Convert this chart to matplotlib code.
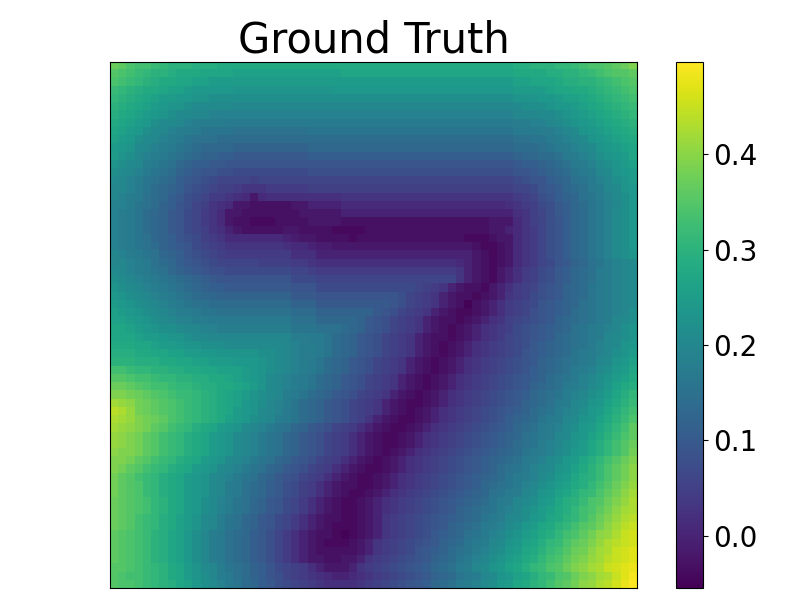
import matplotlib
matplotlib.use("Agg")
import matplotlib.pyplot as plt
import numpy as np

title = "Ground Truth"
cbar_ticks = [0.0, 0.1, 0.2, 0.3, 0.4]
vmin = -0.055
vmax = 0.497

# field values, in hundredths, one line per image row
field_pct = [
    [37,36,34,33,33,32,31,30,30,30,29,29,29,28,28,28,28,28,28,28,28,28,28,28,28,28,28,28,28,28,28,28,28,28,28,28,28,28,28,28,28,28,28,28,28,28,28,28,28,29,29,30,30,30,31,31,32,33,34,34,35,36,37,39],
    [35,34,33,32,31,30,30,29,28,28,28,27,27,27,27,26,26,26,26,26,26,26,26,26,26,26,26,26,27,27,27,27,27,27,27,27,27,27,27,27,27,27,27,27,27,27,27,27,27,28,28,28,28,29,29,30,30,31,32,33,34,35,35,36],
    [34,33,32,31,30,29,28,28,27,27,26,26,25,25,25,25,25,25,25,25,25,25,25,25,25,25,25,25,25,25,25,25,25,25,25,25,25,25,25,25,25,25,25,25,25,25,25,25,25,26,26,27,27,27,28,29,29,30,30,31,32,33,34,35],
    [32,31,30,29,28,28,27,26,26,25,24,24,24,24,24,23,23,23,23,23,23,23,23,23,23,23,23,24,24,24,24,24,24,24,24,24,24,24,24,24,24,24,24,24,24,24,24,24,24,25,25,25,25,26,27,27,28,28,29,30,31,32,33,34],
    [31,30,29,28,27,26,25,25,24,24,23,23,22,22,22,22,22,22,22,22,22,22,22,22,22,22,22,22,22,22,22,22,22,22,22,22,22,22,22,22,22,22,22,22,22,22,22,22,22,23,23,23,24,24,25,26,26,27,28,29,30,31,32,33],
    [30,29,28,27,26,25,24,23,23,22,21,21,21,21,21,20,20,20,20,20,20,20,20,20,20,20,20,20,20,20,20,20,20,20,20,20,20,20,20,20,20,20,20,20,20,20,20,20,20,21,22,22,22,23,24,24,25,26,27,28,29,30,31,32],
    [29,28,27,26,25,24,23,22,21,21,20,20,19,19,19,19,19,19,19,19,19,19,19,19,19,19,19,19,19,19,19,19,19,19,19,19,19,19,19,19,19,19,19,19,19,19,19,19,19,20,20,20,21,21,22,23,24,25,26,27,28,29,30,31],
    [28,27,26,25,24,22,21,21,20,19,18,18,18,18,17,17,17,17,17,17,17,17,17,17,17,17,17,17,17,17,17,17,17,17,17,17,17,17,17,17,17,17,17,17,17,17,17,17,17,18,18,19,19,20,21,22,23,24,25,26,27,28,29,30],
    [27,26,25,24,22,21,20,19,18,18,17,16,16,16,16,15,15,15,15,15,15,15,15,15,16,16,16,16,16,16,16,16,16,16,16,16,16,16,16,16,16,16,16,16,16,16,16,16,16,17,17,17,18,18,19,20,21,23,24,25,26,27,28,29],
    [26,25,24,22,21,20,19,18,17,16,15,15,15,14,14,14,14,14,14,14,14,14,14,14,14,14,14,14,14,14,14,14,14,14,14,14,14,14,14,14,14,14,14,14,14,14,14,14,14,15,15,16,16,17,18,19,20,21,23,24,25,26,27,28],
    [25,24,23,21,20,19,18,17,16,15,14,13,13,13,13,12,12,12,12,12,12,12,12,12,13,13,13,13,13,13,13,13,13,13,13,13,13,13,13,13,13,13,13,13,13,13,13,13,13,14,14,14,15,16,17,18,19,20,21,23,24,25,26,27],
    [25,23,22,20,19,18,17,16,15,14,13,12,12,11,11,10,10,10,10,10,10,10,10,10,11,11,11,11,11,11,11,11,11,11,11,11,11,11,11,11,11,11,11,11,11,11,11,11,11,12,13,13,14,14,15,17,18,19,20,22,23,24,25,27],
    [23,22,21,20,18,17,16,15,13,12,11,11,10,10,9,9,9,9,9,9,9,9,9,9,9,9,9,9,9,9,9,9,9,9,9,9,9,9,9,9,9,9,9,9,9,9,9,9,9,10,11,11,12,13,14,15,17,18,19,21,22,23,25,26],
    [22,21,20,19,17,16,15,14,12,11,10,9,9,8,8,7,7,7,7,7,7,7,7,7,8,8,8,8,8,8,8,8,8,8,8,8,8,8,8,8,8,8,8,8,8,8,8,8,8,9,9,10,11,12,13,14,16,17,18,20,21,23,24,25],
    [21,20,19,18,16,15,14,13,11,10,9,8,7,6,6,6,6,5,6,6,6,6,6,6,6,6,6,6,6,6,6,6,6,6,6,6,6,6,6,6,6,6,6,6,6,6,6,6,6,7,8,9,9,11,12,13,15,16,17,19,20,22,23,25],
    [20,20,19,17,16,14,13,12,11,9,8,7,6,5,5,4,3,3,3,4,4,4,4,4,5,5,5,5,5,5,5,5,5,5,5,5,5,5,5,5,5,5,5,5,5,5,5,5,5,6,6,7,9,10,11,13,14,15,17,18,20,21,23,24],
    [20,19,18,17,15,14,13,11,10,8,7,6,4,4,3,2,1,-2,1,2,2,2,2,2,2,2,2,2,3,3,3,3,3,3,3,3,3,3,3,3,3,3,3,3,3,3,3,3,3,4,5,6,8,9,11,12,13,15,16,18,19,21,22,24],
    [19,19,18,16,15,14,12,11,9,8,6,5,3,2,1,-2,-2,-3,-3,-3,-3,-3,-2,-2,0,0,0,0,1,1,1,1,1,1,1,1,1,1,1,1,1,1,1,1,1,1,1,1,2,3,4,5,7,8,10,11,13,14,16,17,19,20,22,24],
    [19,18,17,16,14,13,12,10,9,7,6,4,3,1,-2,-2,-3,-3,-3,-3,-3,-3,-3,-2,-2,-2,-2,-2,0,0,0,0,0,0,0,0,0,0,0,0,0,0,0,0,0,0,0,0,0,2,3,5,6,8,10,11,13,14,16,17,19,21,22,24],
    [19,18,17,16,14,13,12,10,9,7,6,4,3,1,-2,-3,-3,-4,-4,-4,-3,-3,-3,-3,-2,-2,-2,-2,-3,-3,-3,-3,-3,-3,-3,-3,-3,-3,-3,-3,-3,-3,-3,-3,-3,-3,-2,-2,-2,1,3,5,6,8,9,11,13,14,16,17,19,21,22,24],
    [19,18,17,16,14,13,12,10,9,7,6,5,3,2,0,-2,-3,-3,-3,-3,-3,-2,-2,-3,-3,-3,-3,-4,-4,-4,-4,-3,-3,-3,-3,-3,-3,-3,-3,-3,-3,-3,-3,-3,-3,-3,-2,-2,0,1,3,4,6,8,9,11,13,14,16,17,19,21,22,24],
    [19,18,17,16,15,13,12,11,9,8,7,5,4,3,1,1,1,1,1,1,1,0,-1,-2,-2,-3,-3,-3,-3,-4,-3,-3,-3,-3,-3,-3,-3,-3,-3,-3,-3,-3,-3,-4,-4,-4,-3,-2,-2,1,3,4,6,8,9,11,13,14,16,17,19,21,22,24],
    [19,18,17,16,15,14,12,11,10,9,7,6,5,4,3,3,3,3,3,3,3,2,1,1,0,-1,-1,-2,-2,-2,-2,-2,-2,-2,-2,-2,-2,-2,-2,-2,-2,-2,-2,-2,-3,-4,-4,-3,-2,1,3,4,6,8,9,11,13,14,16,17,19,21,22,24],
    [20,19,18,17,16,15,13,12,11,9,8,7,6,5,4,4,4,4,4,4,4,4,2,2,2,0,0,0,0,0,0,0,0,0,0,0,0,0,0,0,0,0,0,0,-2,-3,-4,-3,-2,1,3,4,6,8,9,11,13,14,16,17,19,21,22,23],
    [20,20,19,18,17,15,14,13,11,10,9,8,7,6,6,6,6,6,5,5,5,5,4,4,3,2,2,2,2,2,2,2,2,2,2,2,2,2,2,2,2,2,1,0,-2,-3,-4,-3,-2,1,3,4,6,7,9,10,12,13,15,16,18,19,20,21],
    [21,20,19,18,17,16,15,13,12,11,10,9,8,8,7,7,7,7,7,7,7,7,6,6,5,4,4,4,4,4,4,4,4,4,4,4,4,4,4,4,4,4,3,0,-2,-3,-4,-2,0,2,4,5,7,8,10,11,13,14,15,17,18,19,20,21],
    [22,21,20,19,18,17,16,15,14,13,12,11,10,9,9,9,9,9,9,9,9,9,7,7,7,6,6,6,6,6,6,6,6,6,6,6,6,6,6,6,6,6,3,0,-2,-3,-4,-2,0,2,4,5,7,8,10,11,13,14,15,17,18,19,20,21],
    [23,22,21,20,19,18,17,16,15,14,13,12,11,11,10,10,10,10,10,10,10,10,9,9,9,7,7,7,7,7,7,7,7,7,7,7,7,6,5,4,3,0,-2,-3,-3,-4,-2,0,2,4,5,6,8,9,10,12,13,14,16,17,18,19,20,21],
    [24,23,22,21,20,19,18,17,16,15,14,13,13,12,12,12,12,12,12,12,12,12,10,10,10,9,9,9,9,9,9,9,9,9,9,8,6,5,4,3,0,-2,-3,-3,-4,-3,-2,0,3,4,5,7,8,9,10,12,13,14,16,17,18,19,20,21],
    [25,24,23,22,21,20,19,18,17,16,15,15,14,14,14,14,14,14,14,14,14,14,12,12,12,10,10,10,10,10,10,10,10,10,9,8,6,5,4,3,0,-2,-3,-5,-3,-2,0,2,4,5,6,7,9,10,11,12,13,15,16,17,18,19,20,21],
    [26,25,24,23,22,21,20,19,18,18,17,16,16,15,15,15,15,15,15,15,15,15,14,14,14,12,12,12,12,12,12,12,10,9,8,6,5,4,3,0,-2,-3,-4,-4,-3,-2,0,2,4,5,6,8,9,10,11,12,14,15,16,17,18,19,20,22],
    [26,26,25,24,23,22,21,20,19,19,18,18,17,17,17,17,17,17,17,17,17,17,15,15,15,13,13,13,13,13,12,10,9,8,6,5,4,3,0,-2,-3,-3,-4,-3,-2,0,2,3,5,6,7,8,9,10,12,13,14,15,16,17,18,20,21,22],
    [27,27,26,25,24,23,22,22,21,20,20,19,19,18,18,18,18,18,18,18,18,18,16,16,16,15,15,15,14,13,12,10,9,8,6,5,4,3,0,-2,-3,-4,-3,-2,0,2,3,4,5,7,8,9,10,11,12,13,15,16,17,18,19,20,22,23],
    [27,27,27,26,25,25,24,23,23,22,21,21,20,20,20,20,20,20,20,20,20,20,18,18,17,17,16,14,13,12,10,9,8,6,5,4,3,0,-2,-3,-3,-4,-3,-2,0,2,3,4,6,7,8,9,10,11,13,14,15,16,17,18,20,21,22,23],
    [28,28,28,27,27,26,25,25,24,23,23,22,22,22,21,21,21,21,21,21,21,20,19,18,18,17,16,14,13,12,10,9,8,6,5,4,3,0,-2,-3,-4,-3,-2,0,2,3,4,5,6,7,8,10,11,12,13,14,15,16,17,19,20,21,23,24],
    [29,29,29,28,28,27,27,26,26,25,25,24,24,23,23,23,23,23,22,22,21,20,19,18,18,17,16,14,13,12,10,9,8,6,5,4,3,0,-2,-3,-4,-3,-2,0,2,3,4,5,6,7,9,10,11,12,13,14,16,17,18,19,20,22,23,25],
    [30,30,30,29,29,29,28,28,27,27,26,26,25,25,25,24,24,24,23,22,21,20,19,18,17,16,14,13,12,10,9,8,6,5,4,3,0,-2,-3,-4,-3,-2,0,2,3,4,5,6,7,8,9,10,12,13,14,15,16,17,18,20,21,23,24,26],
    [33,33,32,31,31,30,30,29,29,28,28,27,27,26,26,26,25,24,23,22,21,20,19,18,17,16,14,13,12,10,9,8,6,5,4,3,0,-2,-3,-4,-3,-2,0,2,3,4,5,6,7,8,9,11,12,13,14,15,17,18,19,21,22,24,25,27],
    [35,35,34,33,33,32,31,31,30,30,29,29,28,28,27,26,25,24,23,21,20,19,18,17,16,14,13,12,10,9,8,6,5,4,3,0,-2,-3,-4,-3,-2,0,2,3,4,5,6,7,8,9,10,11,12,14,15,16,17,19,20,22,23,25,26,28],
    [37,37,36,35,34,33,33,32,31,31,30,29,29,28,28,27,26,25,23,21,20,19,18,17,16,14,13,12,10,9,8,6,5,4,3,0,-2,-3,-4,-3,-2,0,2,3,4,5,6,7,8,9,10,12,13,14,15,17,18,19,21,22,24,26,28,29],
    [39,39,38,37,36,35,34,33,32,32,31,30,29,28,27,26,25,23,22,21,20,18,17,16,14,13,12,10,9,8,6,5,4,3,0,-2,-3,-4,-3,-2,0,2,3,4,5,6,7,8,9,10,11,13,14,15,16,18,19,20,22,23,25,27,29,31],
    [42,41,40,38,37,36,35,34,33,32,31,30,29,28,27,26,24,23,22,20,19,18,16,14,13,12,10,9,8,6,5,4,3,0,-2,-3,-4,-4,-3,-2,0,2,3,4,5,6,7,8,9,10,12,13,14,15,17,18,20,21,23,24,26,28,30,32],
    [44,43,41,38,37,36,35,34,33,32,31,30,29,28,27,25,24,23,21,20,19,17,16,14,13,12,10,9,8,6,5,4,3,0,-2,-3,-4,-3,-2,0,2,3,4,5,6,7,8,9,10,11,12,14,15,16,18,19,20,22,24,25,27,29,31,33],
    [43,42,41,39,38,37,36,34,33,32,31,30,29,28,26,25,24,22,21,20,18,17,16,14,13,12,10,9,8,6,5,3,0,-2,-3,-4,-4,-3,-2,0,2,3,4,5,6,7,8,9,11,12,13,14,16,17,18,20,21,23,24,26,28,30,32,34],
    [42,41,40,39,38,36,35,33,32,31,29,28,27,25,24,23,21,20,19,17,16,15,13,12,10,9,8,6,5,4,2,0,-2,-3,-4,-4,-3,-2,0,2,3,4,5,6,7,8,9,10,11,13,14,15,17,18,19,21,22,24,25,27,29,31,33,36],
    [41,40,39,38,36,35,33,32,31,29,28,27,25,24,23,21,20,19,17,16,15,13,12,10,9,8,6,5,4,2,0,-2,-3,-4,-4,-3,-2,0,2,3,4,5,6,7,8,9,10,11,12,13,15,16,17,18,20,21,23,24,26,28,30,32,34,36],
    [41,40,39,38,36,35,33,32,31,29,28,27,25,24,23,21,20,19,17,16,15,13,12,10,9,8,6,5,4,2,0,-2,-3,-4,-4,-3,-2,0,2,3,4,5,6,7,8,9,10,11,12,14,15,16,18,19,20,22,23,25,27,29,31,33,35,37],
    [40,39,39,38,36,35,33,32,31,29,28,27,25,24,23,21,20,19,17,16,15,13,12,10,9,8,6,5,4,2,0,-2,-3,-4,-3,-2,0,2,3,4,5,6,7,8,9,10,11,12,13,14,16,17,18,19,21,22,24,25,27,29,31,33,35,38],
    [39,39,38,36,35,33,32,31,29,28,27,25,24,23,21,20,19,17,16,15,13,12,10,9,8,6,5,4,2,0,-2,-3,-4,-3,-2,0,2,3,4,5,6,7,8,9,10,11,12,13,14,15,17,18,19,21,22,24,25,27,29,31,33,35,37,39],
    [39,38,36,35,33,32,31,29,28,27,25,24,23,21,20,19,17,16,15,13,12,10,9,8,6,5,4,2,0,-2,-3,-4,-4,-3,-2,0,2,3,4,5,6,7,8,9,10,11,12,14,15,16,17,19,20,21,23,24,26,28,30,32,34,36,38,40],
    [38,36,35,33,32,31,29,28,27,25,24,23,21,20,19,17,16,15,13,12,10,9,8,6,5,4,2,0,-2,-3,-4,-4,-3,-2,0,2,3,4,5,6,7,8,9,10,11,12,13,14,16,17,18,19,21,22,24,25,27,29,30,32,34,36,38,40],
    [38,36,35,34,32,31,29,28,27,25,24,23,21,20,18,17,15,14,13,11,10,8,7,5,4,2,0,-2,-3,-3,-4,-4,-3,-2,0,2,3,4,5,6,7,8,9,10,11,13,14,15,16,17,19,20,22,23,25,26,28,29,31,33,35,37,39,41],
    [38,36,35,34,32,31,29,28,27,25,24,23,21,20,18,17,15,14,13,11,10,8,7,5,4,2,0,-2,-3,-4,-4,-3,-2,0,2,3,4,5,6,7,8,9,10,11,12,13,15,16,17,18,20,21,23,24,26,27,29,31,32,34,36,38,40,42],
    [37,36,35,34,33,31,30,28,27,25,24,22,21,19,18,16,15,13,12,10,9,7,6,4,2,0,-2,-3,-4,-4,-3,-2,0,2,3,4,5,6,7,8,9,10,11,12,13,14,16,17,18,20,21,22,24,25,27,29,30,32,34,35,37,39,41,43],
    [37,36,35,34,33,31,30,28,27,25,24,22,21,19,18,16,15,13,12,10,9,7,6,4,2,0,-2,-3,-4,-4,-3,-2,0,2,3,4,5,6,7,8,9,10,12,13,14,15,16,18,19,20,22,23,25,26,28,29,31,33,34,36,38,40,42,43],
    [37,36,35,33,32,31,29,28,26,25,23,21,20,18,16,15,13,12,10,9,7,6,4,2,0,-2,-3,-3,-4,-4,-3,-2,0,3,4,5,6,7,8,9,10,11,12,13,14,16,17,18,20,21,22,24,25,27,28,30,31,33,35,37,39,41,43,44],
    [37,36,35,33,32,31,29,28,26,25,23,21,20,18,16,15,13,12,10,9,7,6,4,2,0,-2,-3,-4,-4,-4,-3,-2,0,3,4,5,6,7,8,9,10,12,13,14,15,17,18,19,21,22,24,25,27,28,30,31,33,35,36,38,40,42,44,45],
    [36,35,34,33,32,30,29,27,26,24,22,20,18,17,15,14,13,11,10,8,6,4,2,0,-2,-3,-3,-4,-5,-4,-3,-2,0,3,4,5,6,7,8,10,11,12,13,15,16,17,19,20,22,23,25,26,28,29,31,33,34,36,38,40,41,43,45,46],
    [36,35,34,33,32,30,29,27,26,24,22,20,18,17,15,14,13,11,10,8,6,4,2,0,-2,-3,-4,-4,-4,-3,-2,0,3,4,5,6,7,8,9,10,12,13,14,16,17,18,20,21,23,24,26,27,29,31,32,34,36,37,39,41,43,44,45,46],
    [36,35,34,33,32,30,29,27,26,24,22,20,18,17,15,14,13,11,10,8,6,4,2,0,-2,-3,-3,-3,-3,-3,-2,0,3,4,5,6,7,9,10,11,12,14,15,16,18,19,21,22,24,25,27,28,30,32,33,35,37,38,40,42,43,45,46,47],
    [36,35,34,33,32,30,29,27,26,24,22,20,18,17,15,14,13,11,10,8,6,4,2,0,-2,-2,-3,-3,-2,-2,0,3,4,5,6,7,8,9,10,12,13,14,16,17,19,20,22,23,25,26,28,29,31,33,34,36,38,39,41,42,44,45,46,47],
    [35,35,34,33,32,31,30,28,27,25,23,21,20,18,16,15,14,12,11,9,7,6,5,4,2,0,-2,-2,-2,0,3,4,5,6,7,8,9,10,11,13,14,15,17,18,20,21,23,24,26,27,29,31,32,34,35,37,39,40,42,43,45,46,47,48],
    [35,34,33,33,32,31,30,28,27,25,23,22,20,18,17,15,14,12,11,9,8,6,5,4,3,2,1,0,0,1,2,3,4,5,6,7,8,9,10,12,13,14,16,17,18,20,21,23,24,26,27,29,31,32,34,35,37,39,40,42,43,45,47,49],
    [35,34,34,33,32,31,30,29,27,26,24,22,21,19,17,16,14,13,11,10,8,7,6,5,4,3,2,2,2,2,3,4,5,6,7,8,9,10,11,13,14,15,17,18,19,21,22,24,25,27,28,30,31,33,35,36,38,40,41,43,44,46,48,50],
]

field = np.array(field_pct) / 100.0

fig = plt.figure(figsize=(8.11, 6.08), dpi=100)
ax = fig.add_axes([110 / 811, 20 / 608, 527 / 811, 526 / 608])
im = ax.imshow(field, cmap="viridis", vmin=vmin, vmax=vmax, aspect="auto", interpolation="nearest")
ax.set_xticks([])
ax.set_yticks([])
ax.set_title(title, fontsize=30, pad=6)

cax = fig.add_axes([676 / 811, 20 / 608, 27 / 811, 526 / 608])
cbar = fig.colorbar(im, cax=cax)
cbar.set_ticks(cbar_ticks)
cbar.ax.tick_params(labelsize=20)

plt.savefig("out.png", dpi=100)
